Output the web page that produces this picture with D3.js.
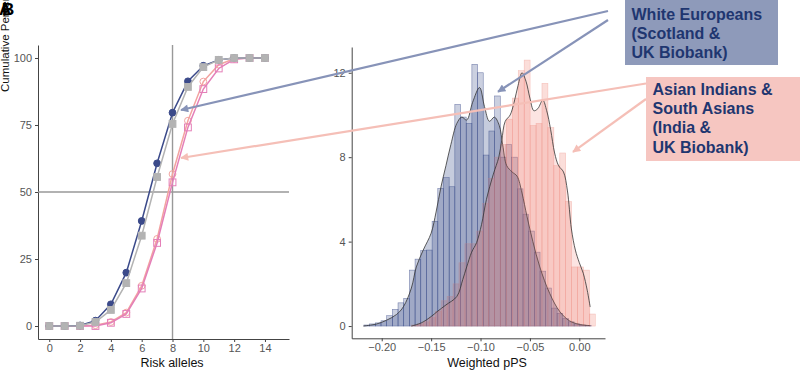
<!DOCTYPE html>
<html>
<head>
<meta charset="utf-8">
<script src="https://cdn.jsdelivr.net/npm/d3@7"></script>
<style>
  body { margin: 0; background: #fff; }
  svg { display: block; font-family: "Liberation Sans", Arial, sans-serif; }
</style>
</head>
<body>
<svg id="chart" width="800" height="372"></svg>
<script>
// left panel: cumulative percent by number of risk alleles
const alleles = [0, 1, 2, 3, 4, 5, 6, 7, 8, 9, 10, 11, 12, 13, 14];
const cumScotland = [0, 0, 0.2, 2, 8.1, 19.9, 39.2, 60.7, 79.6, 91.3, 97.1, 99.3, 100, 100, 100];
const cumUKBWhite = [0, 0, 0.1, 1.5, 6, 16, 33.7, 55.6, 75.4, 89.2, 96.6, 99.3, 100, 100, 100];
const cumIndia = [0, 0, 0, 0.3, 1.5, 5, 15, 32.5, 56.7, 76.6, 91.2, 97.5, 99.7, 100, 100];
const cumUKBSouthAsian = [0, 0, 0, 0, 1.2, 4.5, 14, 31, 53.6, 74.1, 88.4, 96.1, 99.5, 100, 100];
const leftXTicks = [0, 2, 4, 6, 8, 10, 12, 14];
const leftYTicks = [0, 25, 50, 75, 100];

// right panel: histograms (density scale) of weighted pPS
const blueBinStart = -0.218, blueBinWidth = 0.00575;
const blueHist = [0.05, 0.1, 0.15, 0.25, 0.49, 0.79, 1.1, 1.31, 2.65, 3.17,
  3.57, 3.6, 4.96, 6.52, 7.03, 6.6, 10.5, 9.9, 9.6, 12.4,
  12.0, 8.1, 9.24, 10.9, 8.0, 8.6, 8.0, 6.5, 5.3, 4.5,
  3.5, 2.6, 1.8, 0.85, 0.6, 0.35, 0.2, 0.1, 0.05, 0.02];
const pinkBinStart = -0.1698, pinkBinWidth = 0.006;
const pinkHist = [0.05, 0.1, 0.2, 0.4, 0.7, 1.2, 1.4, 2.0, 3.0, 3.9,
  3.9, 4.5, 5.8, 7.0, 8.0, 8.6, 9.8, 10.8, 12.1, 12.6,
  9.5, 9.6, 11.5, 9.4, 7.6, 8.2, 5.9, 2.8, 2.8, 2.65, 0.57];
const blueDensX = [-0.2186, -0.205, -0.195, -0.185, -0.178, -0.17, -0.165, -0.158, -0.15, -0.145,
  -0.14, -0.135, -0.13, -0.124, -0.119, -0.114, -0.108, -0.101, -0.096, -0.091,
  -0.086, -0.081, -0.0776, -0.0735, -0.068, -0.063, -0.058, -0.053, -0.047, -0.04,
  -0.03, -0.02, -0.01, 0, 0.011];
const blueDensY = [0, 0.1, 0.28, 0.55, 0.92, 1.8, 2.8, 3.6, 4.4, 5.4,
  6.6, 7.6, 8.6, 9.6, 9.9, 9.76, 10.6, 11.3, 10.4, 9.7,
  9.9, 9.5, 8.6, 7.6, 7.3, 7.1, 6.3, 5.2, 4.0, 2.8,
  1.55, 0.7, 0.25, 0.08, 0.02];
const pinkDensX = [-0.17, -0.16, -0.15, -0.144, -0.135, -0.124, -0.118, -0.114, -0.109, -0.104,
  -0.099, -0.094, -0.087, -0.0815, -0.0785, -0.075, -0.07, -0.066, -0.062, -0.058,
  -0.054, -0.05, -0.046, -0.042, -0.037, -0.033, -0.029, -0.025, -0.021, -0.016,
  -0.012, -0.008, -0.004, 0, 0.004, 0.008, 0.011];
const pinkDensY = [0, 0.15, 0.45, 0.68, 1.0, 1.4, 2.2, 2.8, 3.5, 3.95,
  4.8, 6.0, 7.2, 8.0, 8.8, 9.7, 10.0, 10.6, 11.4, 12.0,
  11.6, 10.8, 10.2, 10.3, 10.7, 10.2, 9.3, 8.2, 7.6, 7.3,
  6.4, 4.6, 3.6, 3.0, 2.5, 1.7, 0.9];
const rightXTicks = [-0.2, -0.15, -0.1, -0.05, 0];
const rightYTicks = [0, 4, 8, 12];

const legendWhite = ["White Europeans", "(Scotland &", "UK Biobank)"];
const legendAsian = ["Asian Indians &", "South Asians", "(India &", "UK Biobank)"];

const svg = d3.select("#chart");
const axisCol = "#444";

const xL = d3.scaleLinear().domain([-0.73, 15.56]).range([38, 289]);
const yL = d3.scaleLinear().domain([-4.85, 104.85]).range([339, 45]);
const xR = d3.scaleLinear().domain([-0.2304, 0.026]).range([351.7, 605]);
const yR = d3.scaleLinear().domain([-0.58, 13.22]).range([338.3, 47]);

function styleAxis(g) {
  g.select(".domain").attr("stroke", axisCol).attr("stroke-width", 1);
  g.selectAll(".tick line").attr("stroke", axisCol);
  g.selectAll(".tick text").attr("fill", "#555").style("font-size", "11px")
    .style("font-family", "'Liberation Sans', Arial, sans-serif");
}
const fmtR = d => d === 0 ? "0.00" : d3.format(".2f")(d).replace("-", "\u2212");

// ---- left panel ----
const left = svg.append("g");
left.append("g").attr("transform", "translate(0,339)")
  .call(d3.axisBottom(xL).tickValues(leftXTicks).tickSize(3).tickSizeOuter(0).tickPadding(2))
  .call(styleAxis);
left.append("g").attr("transform", "translate(38,0)")
  .call(d3.axisLeft(yL).tickValues(leftYTicks).tickSize(3).tickSizeOuter(0).tickPadding(3))
  .call(styleAxis);

// reference lines
left.append("line").attr("x1", xL(8)).attr("x2", xL(8)).attr("y1", yL.range()[1]).attr("y2", yL.range()[0])
  .attr("stroke", "#999").attr("stroke-width", 1.4);
left.append("line").attr("x1", xL.range()[0]).attr("x2", xL.range()[1]).attr("y1", yL(50)).attr("y2", yL(50))
  .attr("stroke", "#999").attr("stroke-width", 1.4);

const lineL = vals => d3.line().x((d, i) => xL(alleles[i])).y(d => yL(d))(vals);
const series = [
  { vals: cumIndia, col: "#f3a3a0", shape: "circle", fill: "none" },
  { vals: cumUKBSouthAsian, col: "#e47fb8", shape: "square", fill: "none" },
  { vals: cumScotland, col: "#3b4a8a", shape: "circle", fill: "#3b4a8a" },
  { vals: cumUKBWhite, col: "#b3b3b3", shape: "square", fill: "#b3b3b3" }
];
series.forEach(s => {
  left.append("path").attr("d", lineL(s.vals)).attr("fill", "none")
    .attr("stroke", s.col).attr("stroke-width", 1.5);
  const pts = left.append("g").selectAll("*").data(s.vals).enter();
  if (s.shape === "circle") {
    pts.append("circle").attr("cx", (d, i) => xL(alleles[i])).attr("cy", d => yL(d)).attr("r", 3.4)
      .attr("fill", s.fill).attr("stroke", s.col).attr("stroke-width", 1);
  } else {
    pts.append("rect").attr("x", (d, i) => xL(alleles[i]) - 3.4).attr("y", d => yL(d) - 3.4)
      .attr("width", 6.8).attr("height", 6.8)
      .attr("fill", s.fill).attr("stroke", s.col).attr("stroke-width", 1);
  }
});

// ---- right panel ----
const right = svg.append("g");
right.append("g").attr("transform", "translate(0,338.3)")
  .call(d3.axisBottom(xR).tickValues(rightXTicks).tickFormat(fmtR).tickSize(3).tickSizeOuter(0).tickPadding(2))
  .call(styleAxis);
right.append("g").attr("transform", "translate(351.7,0)")
  .call(d3.axisLeft(yR).tickValues(rightYTicks).tickSize(3).tickSizeOuter(0).tickPadding(3))
  .call(styleAxis);

function drawHist(hist, start, width, fill, op, stroke, sop) {
  right.append("g").selectAll("rect").data(hist).enter().append("rect")
    .attr("x", (d, i) => xR(start + i * width))
    .attr("width", (d, i) => xR(start + (i + 1) * width) - xR(start + i * width))
    .attr("y", d => yR(d))
    .attr("height", d => yR(0) - yR(d))
    .attr("fill", fill).attr("fill-opacity", op)
    .attr("stroke", stroke).attr("stroke-opacity", sop).attr("stroke-width", 0.6);
}
drawHist(blueHist, blueBinStart, blueBinWidth, "#2e4283", 0.25, "#3d4f8c", 0.65);
drawHist(pinkHist, pinkBinStart, pinkBinWidth, "#ee7a6c", 0.25, "#f09a90", 0.5);

function drawDens(xs, ys, fill, op) {
  const pts = xs.map((x, i) => [x, ys[i]]);
  const area = d3.area().x(d => xR(d[0])).y0(yR(0)).y1(d => yR(d[1])).curve(d3.curveCatmullRom.alpha(0.5));
  const line = d3.line().x(d => xR(d[0])).y(d => yR(d[1])).curve(d3.curveCatmullRom.alpha(0.5));
  right.append("path").attr("d", area(pts)).attr("fill", fill).attr("fill-opacity", op);
  right.append("path").attr("d", line(pts)).attr("fill", "none").attr("stroke", "#333").attr("stroke-width", 0.8);
}
drawDens(blueDensX, blueDensY, "#2e4283", 0.27);
drawDens(pinkDensX, pinkDensY, "#ee7a6c", 0.2);

// ---- axis titles ----
svg.append("text").attr("x", 172).attr("y", 367).attr("text-anchor", "middle")
  .style("font-size", "12.5px").attr("fill", "#111").text("Risk alleles");
svg.append("text").attr("x", 487).attr("y", 367).attr("text-anchor", "middle")
  .style("font-size", "12.5px").attr("fill", "#111").text("Weighted pPS");
svg.append("text").attr("transform", "translate(9,92) rotate(-90)")
  .style("font-size", "11.5px").attr("fill", "#111").text("Cumulative Percent");
svg.append("text").attr("x", -1).attr("y", 15).style("font-size", "17px").style("font-weight", "bold").text("A");
svg.append("text").attr("x", 2).attr("y", 15).style("font-size", "17px").style("font-weight", "bold").text("B");

// ---- annotation arrows and legend boxes ----
const defs = svg.append("defs");
[["arrBlue", "#8793b8"], ["arrPink", "#f5bfb7"]].forEach(([id, c]) => {
  defs.append("marker").attr("id", id).attr("viewBox", "0 0 10 10").attr("refX", 9).attr("refY", 5)
    .attr("markerWidth", 9).attr("markerHeight", 8).attr("markerUnits", "userSpaceOnUse")
    .attr("orient", "auto")
    .append("path").attr("d", "M0,0L10,5L0,10z").attr("fill", c);
});
const arrows = [
  { from: [608, 11], to: [xL(8.55), yL(80.6)], id: "arrBlue", c: "#8793b8" },
  { from: [608, 20], to: [xR(-0.0823), yR(11.1)], id: "arrBlue", c: "#8793b8" },
  { from: [646, 83.5], to: [xL(8.55), yL(62.7)], id: "arrPink", c: "#f5bfb7" },
  { from: [646, 99], to: [xR(-0.0064), yR(8.25)], id: "arrPink", c: "#f5bfb7" }
];
arrows.forEach(a => {
  svg.append("line").attr("x1", a.from[0]).attr("y1", a.from[1]).attr("x2", a.to[0]).attr("y2", a.to[1])
    .attr("stroke", a.c).attr("stroke-width", 2.2).attr("marker-end", `url(#${a.id})`);
});

svg.append("rect").attr("x", 625).attr("y", -2).attr("width", 153).attr("height", 67).attr("fill", "#8e9aba");
legendWhite.forEach((t, i) => svg.append("text").attr("x", 631.5).attr("y", 20 + i * 19)
  .style("font-size", "16px").style("font-weight", "bold").attr("fill", "#1f3670").text(t));
svg.append("rect").attr("x", 646).attr("y", 77).attr("width", 156).attr("height", 84).attr("fill", "#f6c6c1");
legendAsian.forEach((t, i) => svg.append("text").attr("x", 652.5).attr("y", 95 + i * 19.2)
  .style("font-size", "16px").style("font-weight", "bold").attr("fill", "#1f3670").text(t));
</script>
</body>
</html>
